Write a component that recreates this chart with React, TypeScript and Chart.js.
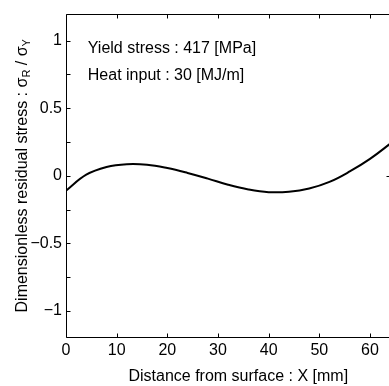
import React, { useEffect, useRef } from 'react';
import { Chart, registerables } from 'chart.js';

Chart.register(...registerables);

// Data
const xValues = [0, 4, 8, 12, 16, 20, 24, 28, 32, 36, 40, 44, 48, 52, 56, 60, 64.6];
const yValues = [-0.11, 0.008, 0.065, 0.086, 0.082, 0.057, 0.021, -0.021, -0.066, -0.101, -0.121, -0.118, -0.094, -0.045, 0.032, 0.125, 0.255];

const xMin = 0;
const xMax = 63.75;
const yMin = -1.2;
const yMax = 1.2;
const xTickValues = [0, 10, 20, 30, 40, 50, 60];
const yTickValues = [-1, -0.75, -0.5, -0.25, 0, 0.25, 0.5, 0.75, 1];
const rightTickValues = [0];
const yLabelStep = 0.5;

const annotationLines = ['Yield stress : 417 [MPa]', 'Heat input : 30 [MJ/m]'];
const annotationX = 4.3;
const annotationY = [0.912, 0.708];
const xTitle = 'Distance from surface : X [mm]';
const yTitleParts: { text: string; sub: boolean }[] = [
  { text: 'Dimensionless residual stress : σ', sub: false },
  { text: 'R', sub: true },
  { text: ' / σ', sub: false },
  { text: 'Y', sub: true },
];

const FONT = '"Liberation Sans", Arial, Helvetica, sans-serif';
const FS = 16;

const fmt = (v: number) => {
  const s = String(Math.abs(v));
  return v < 0 ? '\u2212' + s : s;
};

const framePlugin = {
  id: 'frame',
  afterDraw(chart: any) {
    const { ctx, chartArea: a, scales } = chart;
    const xs = scales.x;
    const ys = scales.y;
    ctx.save();
    ctx.strokeStyle = '#000';
    ctx.lineWidth = 1;
    const L = Math.round(a.left) + 0.5;
    // right border of the original figure lies just outside the visible picture
    const R = Math.round(a.right) + 1.5;
    const T = Math.round(a.top) + 0.5;
    const B = Math.round(a.bottom) - 0.5;
    ctx.beginPath();
    ctx.moveTo(R, T);
    ctx.lineTo(L, T);
    ctx.lineTo(L, B);
    ctx.lineTo(R, B);
    ctx.stroke();
    const tl = 4;
    ctx.beginPath();
    for (const v of xTickValues) {
      const px = Math.round(xs.getPixelForValue(v)) + 0.5;
      ctx.moveTo(px, B);
      ctx.lineTo(px, B - tl);
      ctx.moveTo(px, T);
      ctx.lineTo(px, T + tl);
    }
    for (const v of yTickValues) {
      const py = Math.round(ys.getPixelForValue(v)) + 0.5;
      ctx.moveTo(L, py);
      ctx.lineTo(L + tl, py);
    }
    for (const v of rightTickValues) {
      const py = Math.round(ys.getPixelForValue(v)) + 0.5;
      ctx.moveTo(R, py);
      ctx.lineTo(R - tl, py);
    }
    ctx.stroke();

    // annotations
    ctx.fillStyle = '#000';
    ctx.font = `${FS}px ${FONT}`;
    ctx.textAlign = 'left';
    ctx.textBaseline = 'alphabetic';
    annotationLines.forEach((t, i) => {
      ctx.fillText(t, xs.getPixelForValue(annotationX), ys.getPixelForValue(annotationY[i]));
    });

    // x title
    ctx.textAlign = 'center';
    ctx.fillText(xTitle, xs.getPixelForValue(34), 381);

    // y title with subscripts
    const mainFont = `${FS}px ${FONT}`;
    const subFont = `11px ${FONT}`;
    let total = 0;
    for (const p of yTitleParts) {
      ctx.font = p.sub ? subFont : mainFont;
      total += ctx.measureText(p.text).width;
    }
    ctx.translate(27, (a.top + a.bottom) / 2);
    ctx.rotate(-Math.PI / 2);
    ctx.textAlign = 'left';
    let x = -total / 2;
    for (const p of yTitleParts) {
      ctx.font = p.sub ? subFont : mainFont;
      ctx.fillText(p.text, x, p.sub ? 3 : 0);
      x += ctx.measureText(p.text).width;
    }
    ctx.restore();
  },
};

export default function App() {
  const ref = useRef<HTMLCanvasElement | null>(null);
  useEffect(() => {
    document.body.style.margin = '0';
    document.body.style.overflow = 'hidden';
    const canvas = ref.current;
    if (!canvas) return;
    const chart = new Chart(canvas, {
      type: 'line',
      data: {
        datasets: [
          {
            data: xValues.map((x, i) => ({ x, y: yValues[i] })),
            borderColor: '#000',
            borderWidth: 2,
            pointRadius: 0,
            fill: false,
            tension: 0.4,
          },
        ],
      },
      options: {
        animation: false,
        responsive: false,
        devicePixelRatio: 1,
        layout: { padding: { top: 9, right: 0, left: 0, bottom: 0 } },
        plugins: { legend: { display: false }, tooltip: { enabled: false } },
        scales: {
          x: {
            type: 'linear',
            min: xMin,
            max: xMax,
            grid: { display: false, drawTicks: false },
            border: { display: false },
            ticks: {
              stepSize: 10,
              includeBounds: false,
              autoSkip: false,
              maxRotation: 0,
              padding: 3,
              color: '#000',
              font: { family: FONT, size: FS },
              callback: (v: any) => fmt(Number(v)),
            },
            afterFit: (s: any) => {
              s.height = 48;
            },
          },
          y: {
            type: 'linear',
            min: yMin,
            max: yMax,
            grid: { display: false, drawTicks: false },
            border: { display: false },
            ticks: {
              stepSize: yLabelStep,
              includeBounds: false,
              autoSkip: false,
              padding: 4,
              color: '#000',
              font: { family: FONT, size: FS },
              callback: (v: any) => fmt(Number(v)),
            },
            afterFit: (s: any) => {
              s.width = 66;
            },
          },
        },
      },
      plugins: [framePlugin],
    } as any);
    return () => chart.destroy();
  }, []);
  return (
    <div style={{ width: 389, height: 386, overflow: 'hidden' }}>
      <canvas ref={ref} width={389} height={386} style={{ display: 'block' }} />
    </div>
  );
}
